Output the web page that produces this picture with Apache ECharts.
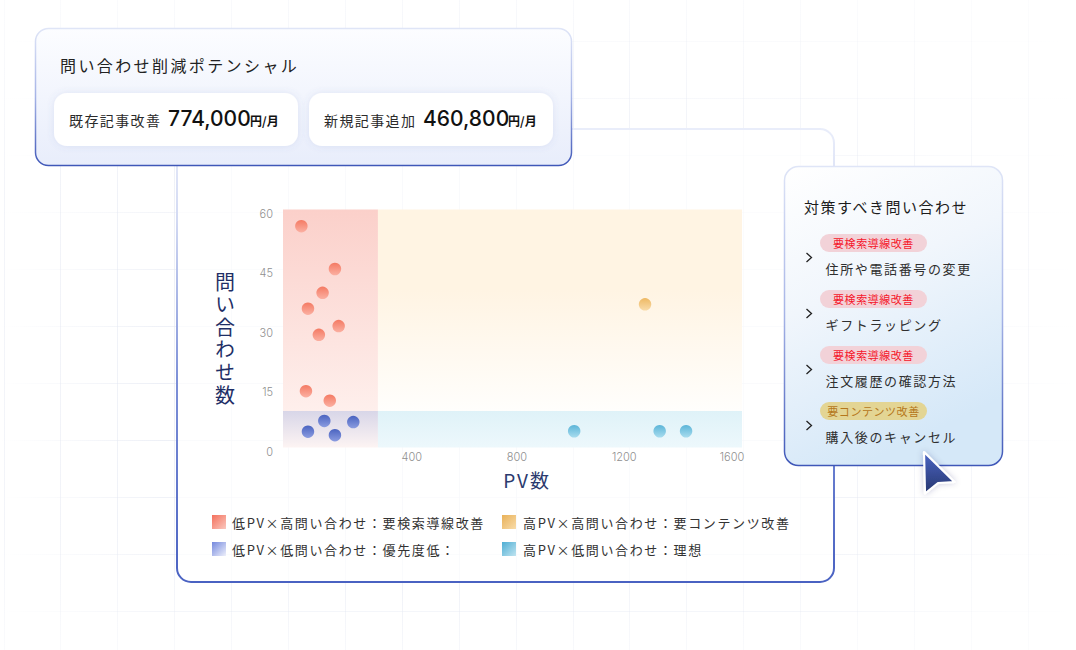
<!DOCTYPE html>
<html lang="ja">
<head>
<meta charset="utf-8">
<title>問い合わせ分析</title>
<style>
html,body{margin:0;padding:0;background:#fff;width:1076px;height:650px;overflow:hidden}
#chart{width:1076px;height:650px}
#chart svg text{font-kerning:normal}
#chart svg text[style*="CJK"]{letter-spacing:.1em}
#chart svg text[style*="13px"][style*="CJK"]{letter-spacing:.125em}
#chart svg text[style*="16px"][style*="CJK"]{letter-spacing:.15em}
#chart svg text[style*="15px"][style*="CJK"]{letter-spacing:.1em}
#chart svg text[style*="14px"][style*="CJK"]{letter-spacing:.1em}
#chart svg text[style*="11px"][style*="CJK"]{letter-spacing:.05em}
#chart svg text[style*="12px"][style*="CJK"]{letter-spacing:0}
#chart svg text[style*="20px"][style*="CJK"]{letter-spacing:.13em;writing-mode:vertical-rl;text-orientation:upright}
</style>
<script src="https://cdn.jsdelivr.net/npm/echarts@6/dist/echarts.min.js"></script>
</head>
<body>
<div id="chart"></div>
<script>
// ---- data ----
const seriesNames = [
  '低PV×高問い合わせ：要検索導線改善',
  '高PV×高問い合わせ：要コンテンツ改善',
  '低PV×低問い合わせ：優先度低：',
  '高PV×低問い合わせ：理想'
];
const lowPvHighInq  = [[64,55.8],[181,45],[138,39],[87,35],[194,30.6],[125,28.4],[80,14.2],[163,11.8]];
const highPvHighInq = [[1262,36.1]];
const lowPvLowInq   = [[144,6.7],[245,6.4],[87,4],[181,3.1]];
const highPvLowInq  = [[1015,4.1],[1313,4.1],[1405,4.1]];
const xMax = 1600, yMax = 60, xSplit = 331, ySplit = 9.2;
const xTickShift = {400:14, 800:4.5, 1200:-3, 1600:-10};
const yAxisTitle = '問い合わせ数';
const potentialTitle = '問い合わせ削減ポテンシャル';
const potentialLabels = ['既存記事改善','新規記事追加'];
const potentialValues = ['774,000','460,800'];
const potentialUnit = '円/月';
const listTitle = '対策すべき問い合わせ';
const listTags = ['要検索導線改善','要検索導線改善','要検索導線改善','要コンテンツ改善'];
const listItems = ['住所や電話番号の変更','ギフトラッピング','注文履歴の確認方法','購入後のキャンセル'];

// ---- helpers ----
const CJK = '"Noto Sans CJK JP"';
const LAT = 'Inter';
const grad = (c0,c1,x2=0,y2=1,x=0,y=0) => ({type:'linear',x,y,x2,y2,colorStops:[{offset:0,color:c0},{offset:1,color:c1}]});
const gradN = (stops,x2=0,y2=1,x=0,y=0) => ({type:'linear',x,y,x2,y2,colorStops:stops.map(s=>({offset:s[0],color:s[1]}))});
const text = (t,x,y,size,fill,opt={}) => ({type:'text',z:opt.z||20,style:{text:t,x,y,fontSize:size,fontFamily:opt.family||CJK,fontWeight:opt.weight||400,fill,align:opt.align||'left',verticalAlign:'middle'}});
const rect = (x,y,w,h,r,fill,stroke,lw,z,extra={}) => ({type:'rect',z,shape:{x,y,width:w,height:h,r},style:Object.assign({fill,stroke,lineWidth:lw},extra)});

const elements = [];
// faint page grid, fading toward the edges
const fade = v => Math.max(0,Math.min(1,1-Math.abs(v)));
for(let i=0;i<19;i++){
  const x = Math.round(3.5+56.9*i);
  const a = 0.2+0.55*fade((x-430)/720);
  elements.push(rect(x,0,1,650,0,gradN([[0,`rgba(226,230,241,${a*0.35})`],[0.3,`rgba(226,230,241,${a})`],[0.8,`rgba(226,230,241,${a})`],[1,`rgba(226,230,241,${a*0.4})`]]),null,0,-20));
}
for(let i=0;i<11;i++){
  const y = 41+57*i;
  if(y>650) break;
  const a = 0.1+0.55*fade((y-400)/420);
  elements.push(rect(0,y,1076,1,0,gradN([[0,'rgba(226,230,241,0)'],[0.15,`rgba(226,230,241,${a})`],[0.75,`rgba(226,230,241,${a})`],[1,'rgba(226,230,241,0)']],1,0),null,0,-20));
}
// main card
elements.push(rect(177,129,657,453,14,'rgba(255,255,255,0.7)',
  gradN([[0,'#e9edfa'],[0.2,'#d3daf3'],[0.55,'#7e91d8'],[1,'#4a62c2']]),2,-10));
// top card
elements.push(rect(35.5,28.5,536,137,13,grad('#fcfdff','#e8edfb'),
  gradN([[0,'#dfe5f7'],[0.5,'#a5b3e6'],[1,'#3f57b8']]),1.5,10));
[0,1].forEach(i=>{
  const x = i?309:54;
  elements.push(rect(x,93,244,53,13,'#ffffff',null,0,11,{shadowBlur:7,shadowColor:'rgba(90,110,190,0.14)'}));
  elements.push(text(potentialLabels[i],x+15,119.5,14,'#2b2b2b'));
  elements.push(text(potentialValues[i],i?423:168,118,21,'#111',{family:LAT,weight:500}));
  elements.push(text(potentialUnit,i?508:250,120.5,12,'#111',{weight:700}));
});
elements.push(text(potentialTitle,60,65,16,'#222'));
// right list card
elements.push(rect(784.5,166.5,218,299,14,gradN([[0,'#ffffff'],[0.45,'#f1f6fc'],[1,'#d5e8f8']],0.35,1),
  gradN([[0,'#dfe5f7'],[0.5,'#a5b3e6'],[1,'#3f57b8']]),1.5,10));
elements.push(text(listTitle,804,206,15,'#1c1c1c'));
listItems.forEach((item,i)=>{
  const dy = 56*i, warm = listTags[i]===listTags[3];
  elements.push(rect(820,234+dy,107,18,9,warm?'#e3d594':'#f2d2d8',null,0,11));
  elements.push(text(listTags[i],873.5,242.5+dy,11,warm?'#b5771b':'#f5172b',{align:'center'}));
  elements.push(text(item,825.5,268+dy,13,'#2f2f2f'));
  elements.push({type:'polyline',z:12,shape:{points:[[806.5,253+dy],[811.5,257.5+dy],[806.5,262+dy]]},style:{fill:null,stroke:'#222',lineWidth:1.3}});
});
// vertical y-axis title (one string, set upright through CSS writing-mode)
elements.push(text(yAxisTitle,225,272,20,'#1f2f66'));
// pointer
elements.push({type:'polygon',z:30,shape:{points:[[924,452],[954.5,482],[938,483],[925,493.5]]},
  style:{fill:grad('#4c66c4','#26366f'),stroke:'#fff',lineWidth:2.2,lineJoin:'round',shadowBlur:6,shadowColor:'rgba(30,40,90,0.22)'}});

const makeArea = (a,b,fill) => ({silent:true,itemStyle:{color:fill,borderWidth:0},data:[[{coord:a},{coord:b}]]});
const makeSeries = (i,data,c0,c1,area) => ({type:'scatter',name:seriesNames[i],data,symbolSize:12.5,z:5,
  itemStyle:{color:grad(c0,c1),opacity:1},markArea:area,silent:true});

const tickStyle = {fontSize:11,fontFamily:LAT,fontWeight:300,color:'#8f8f8f'};
const xRich = {};
Object.keys(xTickShift).forEach(v=>{
  const s = xTickShift[v];
  xRich['t'+v] = Object.assign({padding:s>0?[0,0,0,2*s]:[0,-2*s,0,0]},tickStyle);
});
const legendItem = (i,c0,c1) => ({name:seriesNames[i],itemStyle:{color:grad(c0,c1,1,1)}});
const legendBase = {orient:'vertical',padding:0,icon:'rect',itemWidth:14,itemHeight:14,itemGap:13,selectedMode:false};
const legendText = pad => ({fontSize:13,fontFamily:CJK,color:'#333',padding:[0,0,0,pad]});

const chart = echarts.init(document.getElementById('chart'),null,{renderer:'svg'});
chart.setOption({
  animation:false,
  backgroundColor:'#ffffff',
  graphic:{elements},
  grid:{left:283,top:209.5,width:459,height:238,containLabel:false},
  xAxis:{type:'value',min:0,max:xMax,interval:400,
    name:'PV数',nameLocation:'middle',nameGap:22,
    nameTextStyle:{fontSize:19,fontFamily:CJK,color:'#2b3a6e',padding:[0,0,0,29]},
    axisLine:{show:false},axisTick:{show:false},splitLine:{show:false},
    axisLabel:{margin:4,rich:xRich,color:'#8f8f8f',fontSize:11,fontFamily:LAT,
      formatter:v=>v===0?'':`{t${v}|${v}}`}},
  yAxis:{type:'value',min:0,max:yMax,interval:15,
    axisLine:{show:false},axisTick:{show:false},splitLine:{show:false},
    axisLabel:{margin:10,rich:{t:Object.assign({padding:[8,0,0,0]},tickStyle)},formatter:v=>`{t|${v}}`}},
  legend:[
    Object.assign({},legendBase,{left:212,top:515,textStyle:legendText(1),
      data:[legendItem(0,'#f4705c','#fac8bf'),legendItem(2,'#7488dd','#eef0fb')]}),
    Object.assign({},legendBase,{left:502,top:515,textStyle:legendText(2),
      data:[legendItem(1,'#e9b158','#f8dcaa'),legendItem(3,'#4eaed4','#c0e4f0')]})
  ],
  series:[
    makeSeries(0,lowPvHighInq,'#f47a63','#fbb0a2',makeArea([0,yMax],[xSplit,ySplit],grad('#fbd0ca','#feefec'))),
    makeSeries(1,highPvHighInq,'#eeb964','#f9dcaa',makeArea([xSplit,yMax],[xMax,ySplit],gradN([[0,'#fff4e3'],[0.4,'#fff4e3'],[1,'#fffefc']]))),
    makeSeries(2,lowPvLowInq,'#4a63c0','#8b9ce0',makeArea([0,ySplit],[xSplit,0],grad('#d8d6e8','#fdf4f3'))),
    makeSeries(3,highPvLowInq,'#5cb5d8','#a8dcee',makeArea([xSplit,ySplit],[xMax,0],grad('#dff2f8','#edf8fc')))
  ]
});
</script>
</body>
</html>
